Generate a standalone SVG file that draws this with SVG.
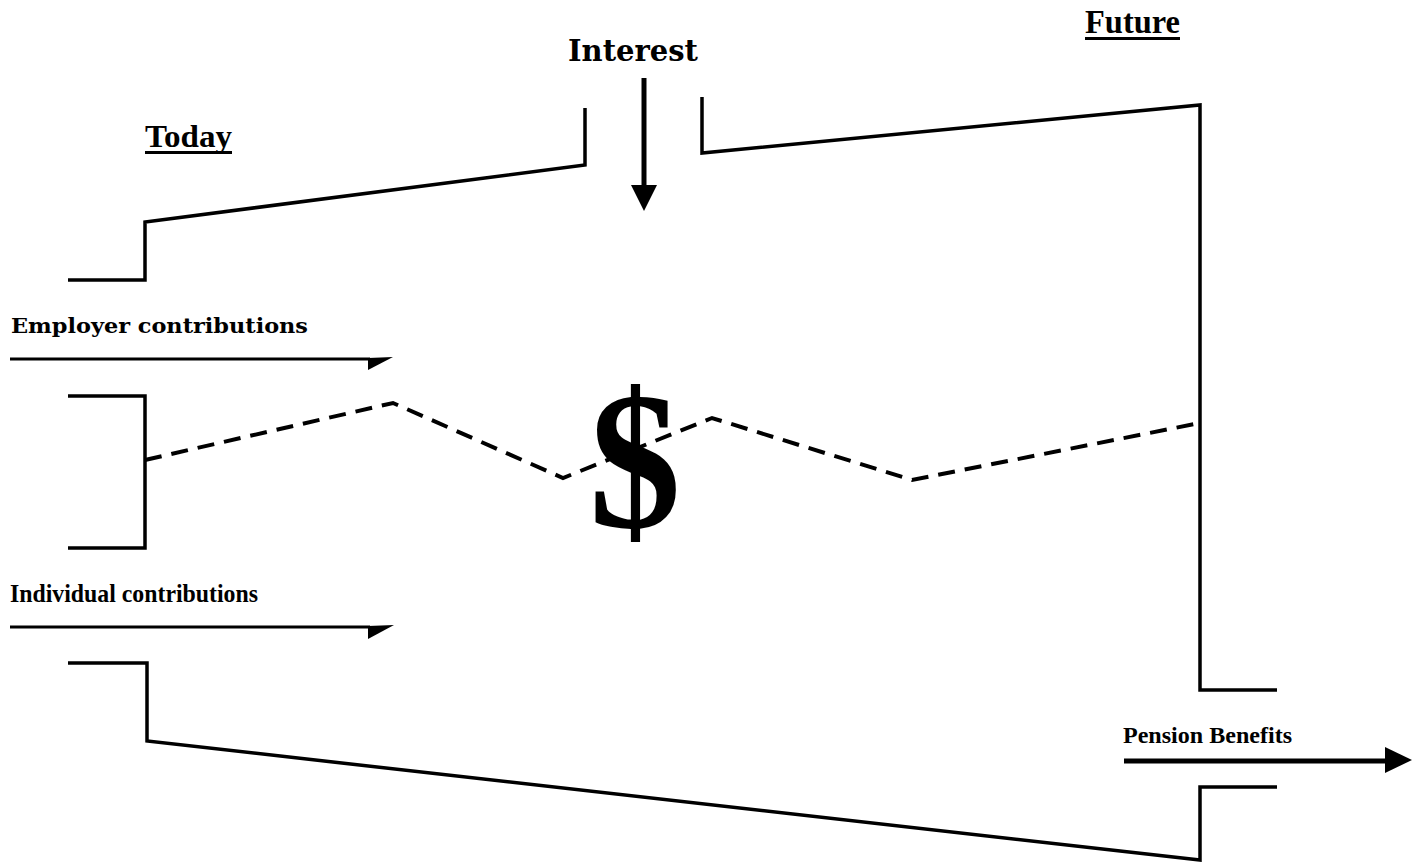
<svg xmlns="http://www.w3.org/2000/svg" width="1424" height="865" viewBox="0 0 1424 865">
<style>
.wall{fill:none;stroke:#000;stroke-width:3.5;stroke-linejoin:miter}
.dash{fill:none;stroke:#000;stroke-width:4;stroke-dasharray:17 10}
.flow{stroke:#000;stroke-width:3;fill:none}
.head{fill:#000;stroke:none}
.tnr{font-family:"Liberation Serif","Times New Roman",serif;font-weight:bold;fill:#000}
.csb{font-family:"DejaVu Serif","Liberation Serif",serif;font-weight:bold;fill:#000}
</style>
<rect width="1424" height="865" fill="#fff"/>
<g id="pipe">
<polyline class="wall" points="68,280 145,280 145,222 585,165 585,108"/>
<polyline class="wall" points="702,97 702,153 1200,105 1200,690 1277,690"/>
<polyline class="wall" points="68,396 145,396 145,548 68,548"/>
<polyline class="wall" points="68,663 147,663 147,741 1200,860 1200,787 1277,787"/>
<polyline class="dash" points="145,460 393,403 563,478 712,418 912,480 1200,423"/>
</g>
<g id="labels">
<text class="tnr" x="145" y="147" font-size="32" textLength="87" lengthAdjust="spacingAndGlyphs">Today</text>
<rect x="145" y="151" width="87" height="3"/>
<text class="tnr" x="1085" y="33" font-size="33" textLength="95" lengthAdjust="spacingAndGlyphs">Future</text>
<rect x="1085" y="37" width="95" height="3"/>
<text class="csb" x="568" y="61" font-size="29" textLength="130" lengthAdjust="spacingAndGlyphs">Interest</text>
<text class="tnr" x="589" y="527" font-size="198" textLength="92" lengthAdjust="spacingAndGlyphs">$</text>
</g>
<g id="connectors">
<g id="interest-flow">
<line x1="644" y1="78" x2="644" y2="188" stroke="#000" stroke-width="5"/>
<polygon class="head" points="631,185 657,185 644,211"/>
</g>
<g id="employer-flow">
<text class="csb" x="11" y="333" font-size="21" textLength="297" lengthAdjust="spacingAndGlyphs">Employer contributions</text>
<line class="flow" x1="10" y1="359" x2="370" y2="359"/>
<polygon class="head" points="368,358 393,357 368,370"/>
</g>
<g id="individual-flow">
<text class="tnr" x="10" y="602" font-size="25" textLength="248" lengthAdjust="spacingAndGlyphs">Individual contributions</text>
<line class="flow" x1="10" y1="627" x2="370" y2="627"/>
<polygon class="head" points="368,626 394,625 368,639"/>
</g>
<g id="pension-flow">
<text class="tnr" x="1123" y="743" font-size="24" textLength="169" lengthAdjust="spacingAndGlyphs">Pension Benefits</text>
<line x1="1124" y1="761" x2="1388" y2="761" stroke="#000" stroke-width="5"/>
<polygon class="head" points="1385,747 1412,760 1385,773"/>
</g>
</g>
</svg>
